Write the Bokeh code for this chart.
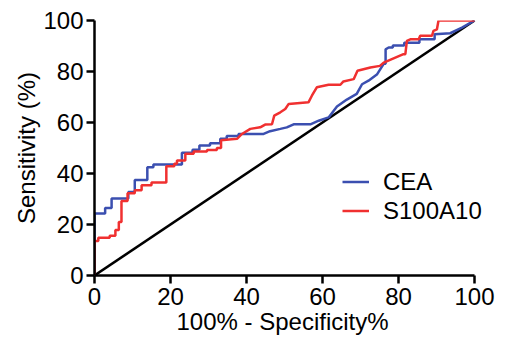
from bokeh.plotting import figure
from bokeh.models import Range1d, Legend, LegendItem, FixedTicker, Title
from bokeh.embed import file_html
from bokeh.resources import INLINE

# ROC curve data (100% - Specificity%, Sensitivity %)
cea_fpr = [0, 0, 2.8, 2.8, 4.5, 4.5, 8.9, 8.9, 10.6, 10.6, 13.9, 13.9, 15.5, 15.5,
           23.0, 23.0, 25.8, 25.8, 27.6, 27.6, 30.4, 30.4, 33.1, 33.1, 34.8, 34.8,
           37.9, 37.9, 44.5, 46.2, 48.9, 50.6, 52.4, 56.8, 59.0, 61.6, 63.8, 66.4,
           69.0, 70.4, 72.1, 74.3, 76.1, 76.6, 76.6, 77.4, 78.5, 78.5, 81.5, 81.5,
           85.5, 85.5, 89.5, 89.5, 93.6, 96.7, 100]
cea_tpr = [0, 24.3, 24.3, 26.5, 26.5, 30.2, 30.2, 32.7, 32.7, 37.5, 37.5, 42.5, 42.5, 43.5,
           43.5, 48.1, 48.1, 49.3, 49.3, 51.0, 51.0, 51.9, 51.9, 53.6, 53.6, 54.7,
           54.7, 55.5, 55.5, 56.6, 57.5, 58.1, 59.3, 59.3, 60.7, 62.0, 66.3, 69.0,
           71.2, 75.0, 76.4, 78.8, 83.0, 83.0, 88.7, 89.4, 89.4, 90.2, 90.2, 91.3,
           91.3, 92.6, 92.6, 94.6, 95.0, 97.2, 100]

s100_fpr = [0, 0, 1.0, 1.0, 4.0, 4.0, 5.5, 5.5, 6.4, 6.4, 7.1, 7.1, 8.7, 8.7, 10.6, 10.6,
            12.4, 12.4, 15.0, 15.0, 18.9, 18.9, 21.0, 21.0, 21.7, 21.7, 23.9, 23.9,
            26.1, 26.1, 29.6, 29.6, 32.2, 32.2, 33.3, 33.3, 37.5, 38.8, 41.0, 43.6,
            44.9, 46.7, 47.3, 48.9, 50.2, 51.1, 56.3, 57.2, 58.5, 61.6, 64.7, 65.5,
            68.2, 69.2, 72.6, 75.1, 76.1, 81.3, 81.8, 82.2, 83.1, 85.3, 85.7, 88.8,
            89.2, 90.1, 90.5, 90.5, 100]
s100_tpr = [0, 13.5, 13.5, 14.8, 14.8, 15.6, 15.6, 17.8, 17.8, 21.0, 21.0, 29.2, 29.2, 32.3,
            32.3, 33.4, 33.4, 35.4, 35.4, 36.5, 36.5, 42.8, 42.8, 43.8, 43.8, 45.1,
            45.1, 47.7, 47.7, 48.6, 48.6, 49.2, 49.2, 50.0, 50.0, 53.0, 53.6, 55.5,
            57.5, 58.1, 59.2, 59.3, 62.7, 64.0, 65.3, 67.3, 67.9, 70.5, 73.8, 74.8,
            74.8, 76.1, 77.0, 80.3, 81.6, 82.2, 83.5, 86.8, 86.8, 92.0, 92.6, 92.6,
            94.0, 94.0, 95.9, 96.5, 99.8, 100, 100]

ref_line = [0, 100]
ticks = [0, 20, 40, 60, 80, 100]
series_names = ["CEA", "S100A10"]
x_title = "100% - Specificity%"
y_title = "Sensitivity (%)"

FONT = "Liberation Sans"

# frame spans the whole right side so the legend text is not clipped;
# the x axis itself is bounded to 0..100
p = figure(width=505, height=345, output_backend="svg", toolbar_location=None,
           x_range=Range1d(0, 108.15), y_range=Range1d(0, 100),
           min_border_left=94, min_border_right=0, min_border_top=20,
           min_border_bottom=70)
p.outline_line_color = None
p.grid.visible = False
p.background_fill_color = "white"

for ax in (p.xaxis, p.yaxis):
    ax.ticker = FixedTicker(ticks=ticks)
    ax.bounds = (0, 100)
    ax.axis_line_width = 2.5
    ax.axis_line_color = "black"
    ax.major_tick_line_width = 2.5
    ax.major_tick_line_color = "black"
    ax.major_tick_out = 8
    ax.major_tick_in = 0
    ax.minor_tick_line_color = None
    ax.major_label_text_font = FONT
    ax.major_label_text_font_size = "24px"
    ax.major_label_text_color = "black"
    ax.axis_label_text_font = FONT
    ax.axis_label_text_font_size = "24px"
    ax.axis_label_text_font_style = "normal"
    ax.axis_label_text_color = "black"

p.yaxis.axis_label = y_title
p.xaxis.major_label_standoff = 4
p.yaxis.major_label_standoff = 3
p.yaxis.axis_label_standoff = 0

# x axis title centred under the 0..100 axis (not the wider frame)
xt = Title(text=x_title, align="left", offset=82, standoff=-3,
           text_font=FONT, text_font_size="24px", text_font_style="normal",
           text_color="black")
p.add_layout(xt, "below")

p.line(ref_line, ref_line, line_color="black", line_width=2.5)
r_cea = p.line(cea_fpr, cea_tpr, line_color="#3b4fb0", line_width=2.5)
r_s100 = p.line(s100_fpr, s100_tpr, line_color="#f03030", line_width=2.5)

legend = Legend(items=[LegendItem(label=series_names[0], renderers=[r_cea]),
                       LegendItem(label=series_names[1], renderers=[r_s100])],
                location=(248, 50), padding=0, margin=0, spacing=0,
                glyph_width=27, glyph_height=29, label_height=29,
                label_standoff=14, border_line_alpha=0, background_fill_alpha=0,
                label_text_font=FONT, label_text_font_size="24px",
                label_text_color="black")
p.add_layout(legend, "center")

open("out.html", "w").write(file_html(p, INLINE))
